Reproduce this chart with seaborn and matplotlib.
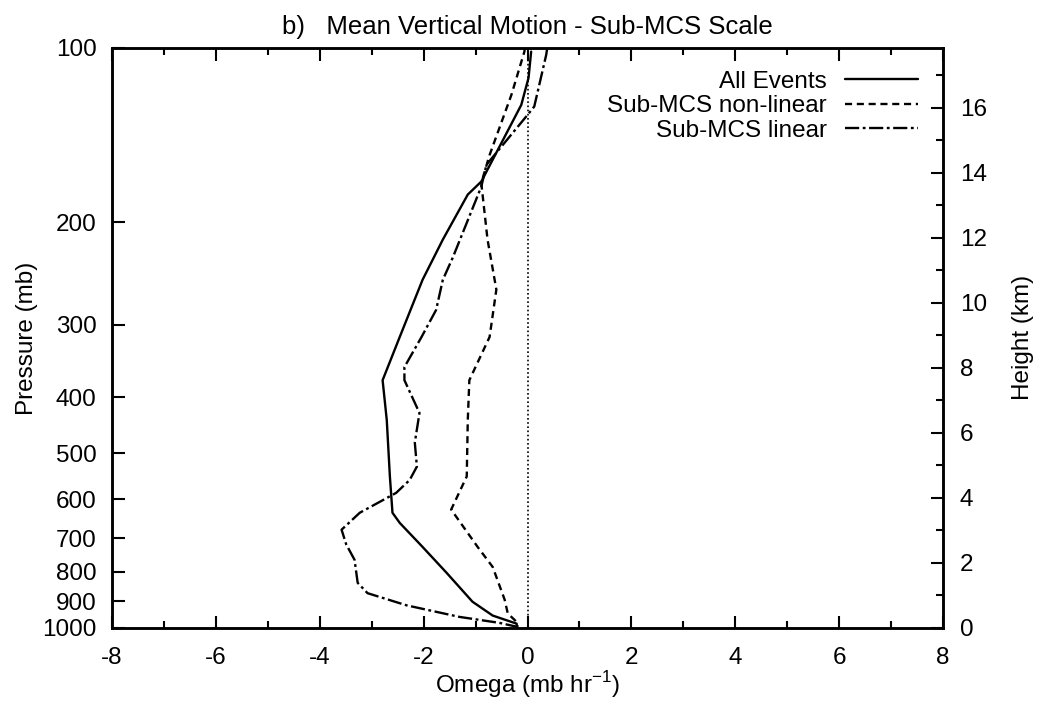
import numpy as np
import pandas as pd
import matplotlib
matplotlib.use("Agg")
import matplotlib.pyplot as plt
import seaborn as sns
from matplotlib.ticker import FixedLocator, NullLocator, MultipleLocator

# Mean omega profiles (mb/hr) against pressure (mb)
all_p = [101.5, 112.6, 125.4, 170.0, 179, 214, 251, 315, 374, 438, 548, 633, 659,
         725, 803, 901, 952, 983, 1000]
all_w = [0.07, 0.02, -0.12, -0.89, -1.15, -1.63, -2.02, -2.46, -2.79, -2.71, -2.65,
         -2.60, -2.46, -2.02, -1.56, -1.06, -0.67, -0.21, -0.2]

nonlin_p = [100, 101.5, 120.5, 153, 171, 214, 261, 315, 374, 438, 548, 625, 725,
            785, 894, 944, 980, 1000]
nonlin_w = [-0.05, -0.06, -0.31, -0.73, -0.89, -0.77, -0.60, -0.73, -1.12, -1.15,
            -1.17, -1.47, -0.96, -0.67, -0.44, -0.38, -0.19, -0.2]

lin_p = [100, 102.8, 126.2, 130.5, 159, 173.5, 230, 251, 283, 315, 355, 374, 426,
         479, 527, 556, 585, 633, 677, 718, 763, 836, 871, 914, 957, 980, 995, 1000]
lin_w = [0.38, 0.36, 0.13, 0.0, -0.79, -0.89, -1.44, -1.63, -1.76, -2.04, -2.37,
         -2.37, -2.08, -2.17, -2.13, -2.27, -2.53, -3.23, -3.58, -3.49, -3.33, -3.27,
         -3.08, -2.33, -1.31, -0.54, -0.21, -0.2]

series_names = ["All Events", "Sub-MCS non-linear", "Sub-MCS linear"]
pressure_ticks = [100, 200, 300, 400, 500, 600, 700, 800, 900, 1000]
omega_ticks = [-8, -6, -4, -2, 0, 2, 4, 6, 8]
height_ticks = [0, 2, 4, 6, 8, 10, 12, 14, 16]

sns.set_theme(style="white")
plt.rcParams["font.family"] = ["Liberation Sans", "DejaVu Sans"]
plt.rcParams["axes.linewidth"] = 1.8
plt.rcParams["mathtext.fontset"] = "custom"
plt.rcParams["mathtext.rm"] = "Liberation Sans"
for key in ["text.color", "axes.labelcolor", "xtick.color", "ytick.color",
            "axes.edgecolor"]:
    plt.rcParams[key] = "black"

FS = 17.5

fig = plt.figure(figsize=(10.42, 7.04), dpi=100)
ax = fig.add_axes([0.1075, 0.108, 0.7975, 0.824])

styles = ["-", (0, (3, 2)), (0, (6, 1.5, 1.2, 1.5))]
for name, w, p, ls in zip(series_names, [all_w, nonlin_w, lin_w],
                          [all_p, nonlin_p, lin_p], styles):
    df = pd.DataFrame({"omega": w, "pressure": p})
    sns.lineplot(data=df, x="omega", y="pressure", sort=False, estimator=None,
                 color="black", linewidth=1.7, linestyle=ls, label=name, ax=ax)

ax.axvline(0, color="black", linestyle=(0, (1, 1.5)), linewidth=1.2)

ax.set_yscale("log")
ax.set_ylim(1000, 100)
ax.set_xlim(-8, 8)
ax.yaxis.set_major_locator(FixedLocator(pressure_ticks))
ax.yaxis.set_minor_locator(NullLocator())
ax.set_yticklabels([str(t) for t in pressure_ticks])
ax.set_xticks(omega_ticks)
ax.set_xticklabels([str(t) for t in omega_ticks])
ax.xaxis.set_minor_locator(MultipleLocator(1))
ax.tick_params(axis="both", which="major", direction="in", length=9, width=1.5,
               labelsize=FS, top=True, bottom=True, left=True, right=False)
ax.tick_params(axis="y", which="major", pad=11)
ax.tick_params(axis="x", which="major", pad=14)
ax.tick_params(axis="x", which="minor", direction="in", length=5, width=1.5,
               top=True, bottom=True)

ax.set_xlabel(r"Omega (mb hr$^{-1}$)", fontsize=FS, labelpad=0)
ax.set_ylabel("Pressure (mb)", fontsize=FS, labelpad=3)
ax.set_title("b)   Mean Vertical Motion - Sub-MCS Scale", fontsize=18.5, pad=10)

# Height scale on the right
ax2 = ax.twinx()
ax2.set_ylim(0, 580 / 32.5)
ax2.set_yticks(height_ticks)
ax2.yaxis.set_minor_locator(MultipleLocator(1))
ax2.tick_params(axis="y", which="major", direction="in", length=9, width=1.5,
                labelsize=FS, pad=12)
ax2.tick_params(axis="y", which="minor", direction="in", length=5, width=1.5)
ax2.set_ylabel("Height (km)", fontsize=FS, labelpad=18)
ax2.grid(False)
for s in ax2.spines.values():
    s.set_linewidth(1.8)

leg = ax.legend(loc="upper right", frameon=False, markerfirst=False, fontsize=FS,
                handlelength=3.0, handletextpad=0.75, labelspacing=0.1,
                borderaxespad=0.3, bbox_to_anchor=(0.99, 0.99))
for t in leg.get_texts():
    t.set_ha("right")
    t.set_color("black")
leg._legend_box.align = "right"

fig.savefig("out.png", dpi=100)
